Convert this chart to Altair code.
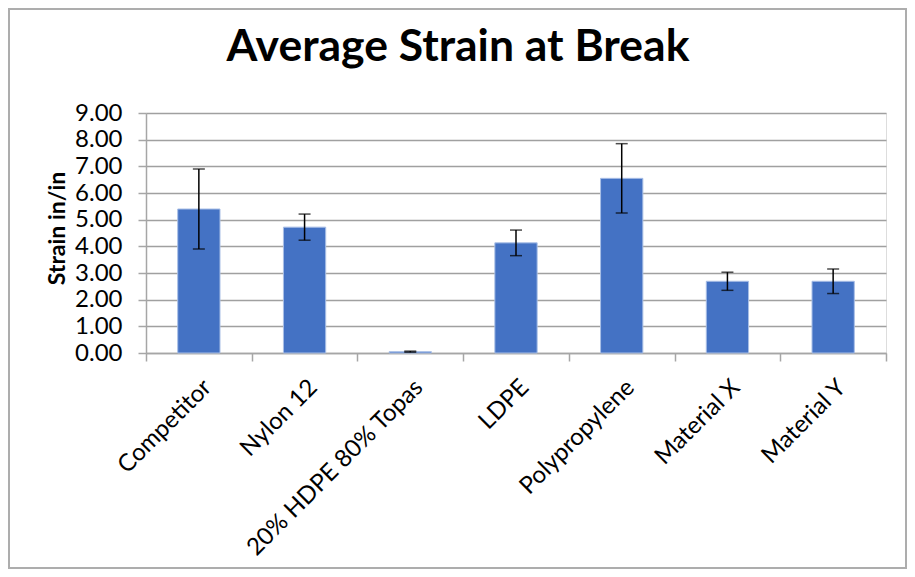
import altair as alt
import pandas as pd

categories = ["Competitor", "Nylon 12", "20% HDPE 80% Topas", "LDPE",
              "Polypropylene", "Material X", "Material Y"]
means = [5.40, 4.72, 0.05, 4.13, 6.55, 2.69, 2.69]
errs = [1.50, 0.49, 0.02, 0.48, 1.30, 0.34, 0.46]
y_ticks = [0, 1, 2, 3, 4, 5, 6, 7, 8, 9]
title_text = "Average Strain at Break"
y_title = "Strain in/in"

df = pd.DataFrame({"cat": categories, "mean": means, "err": errs})

W, H = 740, 240
FONT = "Lato"

x_axis = alt.Axis(labelAngle=-45, labelAlign="right", labelBaseline="top",
                  labelFontSize=24, labelFont=FONT, labelColor="#000000",
                  labelPadding=14, labelLimit=0, labelOverlap=False,
                  tickBand="extent", tickSize=8,
                  tickColor="#A6A6A6", tickWidth=1.5,
                  domainColor="#A6A6A6", domainWidth=1.5, grid=False)
x_scale = alt.Scale(paddingInner=0, paddingOuter=0)

y_axis = alt.Axis(values=y_ticks, format=".2f", labelFontSize=24,
                  labelFont=FONT, labelColor="#000000", labelPadding=16,
                  labelOverlap=False, labelFlush=False,
                  tickSize=8, tickColor="#A6A6A6", tickWidth=1.5,
                  domainColor="#A6A6A6", domainWidth=1.5,
                  gridColor="#A0A0A0", gridWidth=1.5,
                  titleFont=FONT, titleFontSize=23, titleFontWeight="bold",
                  titleColor="#000000", titleAngle=-90,
                  titleX=-82, titleY=115, titleAlign="center",
                  titleBaseline="alphabetic")
y_scale = alt.Scale(domain=[0, 9], nice=False)


def xe():
    return alt.X("cat:N", sort=categories, title=None, scale=x_scale, axis=x_axis)


def ye(field):
    return alt.Y(field, scale=y_scale, title=y_title, axis=y_axis)


base = alt.Chart(df).transform_calculate(
    lo="datum.mean - datum.err", hi="datum.mean + datum.err")

bars = base.mark_bar(width={"band": 0.4}, color="#4472C4",
                     stroke="#A9BFE6", strokeWidth=1).encode(
    x=xe(), y=ye("mean:Q"))

rules = base.mark_rule(color="#000000", strokeWidth=1.5).encode(
    x=xe(), y=ye("lo:Q"), y2="hi:Q")
cap_lo = base.mark_tick(color="#000000", thickness=1.5, size=12).encode(
    x=xe(), y=ye("lo:Q"))
cap_hi = base.mark_tick(color="#000000", thickness=1.5, size=12).encode(
    x=xe(), y=ye("hi:Q"))

title = alt.Chart(alt.Data(values=[{"t": title_text}])).mark_text(
    font=FONT, fontSize=44.5, fontWeight="bold", color="#000000",
    align="center", baseline="alphabetic").encode(
    text="t:N", x=alt.value(312), y=alt.value(-52))

border = alt.Chart(alt.Data(values=[{"b": 1}])).mark_rect(
    fill="transparent", stroke="#ADADAD", strokeWidth=2).encode(
    x=alt.value(-137), x2=alt.value(W + 20),
    y=alt.value(-104), y2=alt.value(H + 215),
)

chart = alt.layer(bars, rules, cap_lo, cap_hi, title, border).properties(
    width=W, height=H,
    autosize=alt.AutoSizeParams(type="none"),
    padding={"left": 138, "top": 105, "right": 21, "bottom": 216},
).configure_view(stroke="transparent").configure_axis(
    labelOverlap=False).configure(background="white")

chart.save("out.html", embed_options={"renderer": "svg", "actions": False})
